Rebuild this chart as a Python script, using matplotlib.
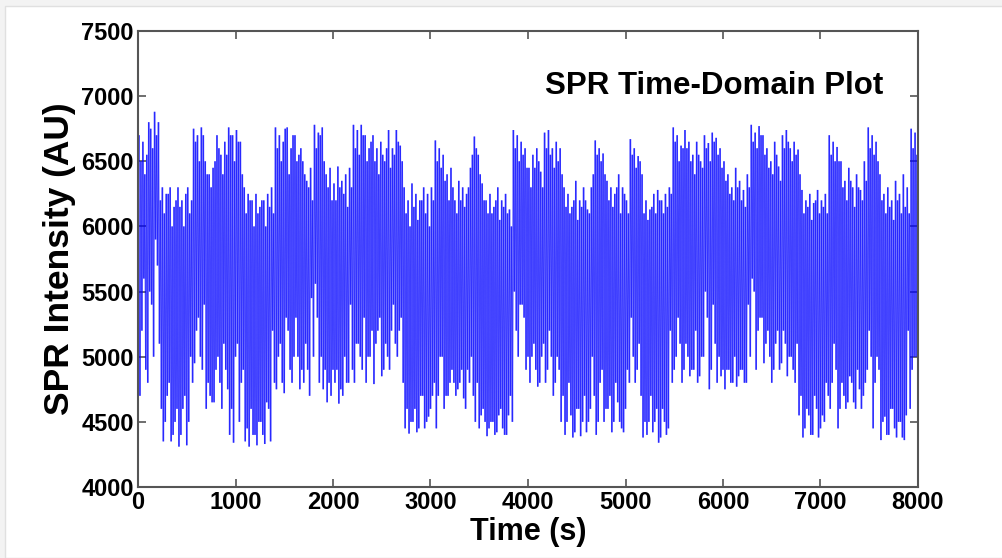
import matplotlib
matplotlib.use("Agg")
import matplotlib.pyplot as plt
from matplotlib.patches import Rectangle
from matplotlib.collections import LineCollection
import numpy as np

# ---- data ----
t_step = 10
# main swings (alternating trough / peak), 20 per 400 s block
intensity_main = [
    # 0 - 400
    6100, 6700, 4700, 6650, 5600, 6550, 4800, 6750, 5400, 6880,
    5900, 6800, 5100, 6300, 4350, 6250, 4700, 6300, 4350, 6150,
    # 400 - 800
    4500, 6300, 4310, 6200, 4600, 6250, 4320, 6100, 5000, 6750,
    4950, 6700, 5300, 6760, 4900, 6500, 4600, 6400, 4700, 6450,
    # 800 - 1200
    4650, 6700, 5000, 6550, 4600, 6650, 4900, 6760, 4400, 6700,
    4340, 6740, 5100, 6650, 4800, 6300, 4350, 6250, 4310, 6200,
    # 1200 - 1600
    4400, 6250, 4320, 6150, 4500, 6200, 4330, 6250, 4600, 6300,
    5200, 6760, 4750, 6700, 5100, 6650, 4720, 6760, 5200, 6600,
    # 1600 - 2000
    4800, 6700, 5300, 6550, 4750, 6500, 4800, 6350, 4900, 6450,
    5450, 6780, 5560, 6720, 4800, 6760, 4750, 6400, 4650, 6450,
    # 2000 - 2400
    4700, 6330, 4800, 6460, 4640, 6350, 4700, 6400, 4800, 6450,
    5400, 6780, 4800, 6740, 5100, 6780, 4900, 6700, 4800, 6600,
    # 2400 - 2800
    5000, 6700, 4790, 6600, 5200, 6650, 4850, 6500, 5100, 6740,
    4900, 6600, 5400, 6740, 5000, 6620, 5300, 6300, 4450, 6200,
    # 2800 - 3200
    4410, 6330, 4500, 6250, 4420, 6200, 4700, 6300, 4450, 6250,
    4540, 6300, 4700, 6660, 4450, 6600, 5000, 6550, 4600, 6400,
    # 3200 - 3600
    4700, 6450, 4900, 6200, 4700, 6350, 4800, 6300, 4680, 6250,
    4900, 6450, 5000, 6690, 4500, 6550, 4450, 6330, 4600, 6200,
    # 3600 - 4000
    4390, 6250, 4500, 6150, 4400, 6300, 4550, 6200, 4450, 6250,
    4400, 6130, 4700, 6740, 5500, 6700, 5000, 6650, 5400, 6600,
    # 4000 - 4400
    4900, 6450, 4800, 6550, 5100, 6600, 4770, 6420, 5000, 6720,
    4800, 6740, 5200, 6600, 4700, 6650, 5000, 6600, 4500, 6300,
    # 4400 - 4800
    4400, 6250, 4800, 6150, 4380, 6350, 4600, 6200, 4390, 6300,
    4700, 6130, 4500, 6300, 5000, 6660, 4400, 6600, 4800, 6560,
    # 4800 - 5200
    4500, 6350, 4600, 6300, 4420, 6250, 4800, 6400, 4500, 6300,
    4420, 6200, 4900, 6670, 5300, 6600, 4800, 6540, 5100, 6400,
    # 5200 - 5600
    4380, 6200, 4400, 6130, 4700, 6250, 4500, 6280, 4340, 6200,
    4600, 6250, 4400, 6300, 5200, 6760, 4900, 6700, 5300, 6620,
    # 5600 - 6000
    4800, 6740, 5100, 6650, 4850, 6550, 4900, 6650, 4800, 6500,
    5000, 6700, 5500, 6640, 4750, 6720, 5400, 6680, 4800, 6600,
    # 6000 - 6400
    4850, 6500, 4750, 6400, 4900, 6300, 4800, 6450, 4770, 6350,
    4900, 6280, 4800, 6400, 5400, 6780, 5600, 6720, 4900, 6770,
    # 6400 - 6800
    5300, 6700, 4950, 6600, 5200, 6500, 4800, 6650, 5100, 6460,
    4900, 6700, 5200, 6740, 4850, 6600, 5000, 6650, 4800, 6590,
    # 6800 - 7200
    4550, 6280, 4380, 6200, 4600, 6250, 4400, 6180, 4700, 6280,
    4380, 6200, 4550, 6250, 4800, 6700, 4600, 6650, 5100, 6610,
    # 7200 - 7600
    4450, 6500, 4800, 6350, 4600, 6450, 4850, 6300, 4650, 6400,
    4900, 6280, 4600, 6500, 4800, 6760, 5200, 6700, 4450, 6650,
    # 7600 - 8000
    5000, 6400, 4360, 6250, 4540, 6300, 4400, 6200, 4600, 6350,
    4380, 6250, 4500, 6400, 4360, 6300, 5200, 6750, 4900, 6720,
    5000,
]
# secondary (smaller) swings between the main ones, 10 per 400 s block
peak_extra = [
    6500, 6400, 6800, 6600, 6700, 6200, 6100, 6250, 6000, 6200,
    6150, 6000, 6300, 6200, 6650, 6500, 6700, 6400, 6300, 6500,
    6600, 6400, 6550, 6700, 6500, 6650, 6400, 6100, 6200, 6000,
    6100, 6200, 6000, 6150, 6100, 6600, 6500, 6750, 6400, 6700,
    6500, 6600, 6400, 6300, 6200, 6600, 6700, 6500, 6300, 6200,
    6200, 6300, 6250, 6150, 6300, 6600, 6550, 6700, 6500, 6650,
    6500, 6400, 6550, 6600, 6450, 6550, 6650, 6500, 6100, 6000,
    6150, 6050, 6200, 6100, 6000, 6200, 6500, 6450, 6350, 6200,
    6300, 6100, 6200, 6150, 6300, 6550, 6600, 6400, 6200, 6100,
    6100, 6200, 6050, 6150, 6100, 6000, 6600, 6500, 6550, 6450,
    6300, 6450, 6500, 6300, 6600, 6550, 6450, 6500, 6400, 6150,
    6100, 6200, 6050, 6150, 6200, 6100, 6400, 6550, 6500, 6400,
    6200, 6150, 6300, 6100, 6250, 6100, 6550, 6450, 6500, 6100,
    6050, 6150, 6100, 6200, 6100, 6150, 6250, 6650, 6500, 6600,
    6600, 6500, 6400, 6550, 6450, 6600, 6500, 6650, 6550, 6450,
    6350, 6250, 6200, 6300, 6200, 6150, 6300, 6650, 6600, 6700,
    6550, 6450, 6400, 6550, 6350, 6600, 6650, 6500, 6550, 6400,
    6100, 6150, 6050, 6200, 6100, 6150, 6100, 6550, 6500, 6500,
    6300, 6200, 6350, 6150, 6300, 6200, 6350, 6600, 6550, 6500,
    6200, 6100, 6150, 6050, 6200, 6100, 6150, 6100, 6600, 6550,
]
trough_extra = [
    5200, 4900, 5500, 5000, 5700, 4600, 4500, 4800, 4400, 4600,
    4400, 4700, 4500, 4800, 5200, 5000, 5400, 4800, 4650, 4900,
    4800, 5100, 4750, 4600, 5000, 4500, 4900, 4450, 4600, 4400,
    4500, 4400, 4650, 4350, 4800, 5000, 4800, 5300, 4900, 5000,
    5000, 4900, 5100, 4700, 5000, 5300, 5000, 4900, 4800, 4900,
    4900, 4750, 5000, 4800, 4900, 5100, 5000, 5300, 5000, 5200,
    5100, 5300, 4900, 5000, 5200, 5100, 5200, 4800, 4600, 4500,
    4600, 4450, 4700, 4500, 4600, 4800, 4700, 5000, 4700, 4800,
    4800, 4750, 4900, 4600, 4800, 4700, 4800, 4550, 4500, 4450,
    4500, 4420, 4600, 4400, 4550, 4500, 5200, 5400, 5300, 5000,
    5000, 4900, 4800, 5100, 4900, 5000, 4800, 4900, 4700, 4500,
    4550, 4420, 4600, 4500, 4420, 4600, 4700, 4500, 4900, 4600,
    4700, 4500, 4650, 4450, 4600, 4800, 5000, 4900, 4700, 4500,
    4500, 4420, 4600, 4380, 4500, 4450, 4800, 5000, 5100, 4900,
    5000, 4900, 5200, 4850, 5000, 5300, 4900, 5100, 5000, 4900,
    4900, 4800, 5000, 4850, 4900, 4800, 5000, 5500, 5200, 5300,
    5100, 5000, 4900, 5200, 4950, 5100, 5000, 4900, 5100, 4700,
    4450, 4550, 4400, 4600, 4450, 4500, 4700, 4800, 4900, 4600,
    4700, 4650, 4800, 4600, 4750, 4700, 4900, 5000, 4800, 4900,
    4500, 4400, 4600, 4450, 4500, 4380, 4550, 4600, 5000, 5000,
]

x_ticks = [0, 1000, 2000, 3000, 4000, 5000, 6000, 7000, 8000]
y_ticks = [4000, 4500, 5000, 5500, 6000, 6500, 7000, 7500]
title_text = "SPR Time-Domain Plot"
x_label = "Time (s)"
y_label = "SPR Intensity (AU)"

# assemble the trace: start value, then per 40 s: main peak, main trough,
# secondary peak, secondary trough
main_peaks = np.array(intensity_main[1::2])
main_troughs = np.array(intensity_main[2::2])
cycle = np.column_stack([main_peaks, main_troughs, peak_extra, trough_extra]).ravel()
intensity = np.concatenate([[intensity_main[0]], cycle])
time_s = t_step * np.arange(len(intensity))

# ---- style ----
plt.rcParams['font.family'] = ['Liberation Sans', 'DejaVu Sans']
plt.rcParams['font.weight'] = 'bold'

W, H = 1003, 558
fig = plt.figure(figsize=(W / 100, H / 100), dpi=100)
fig.patch.set_facecolor('white')

# light screenshot border
fig.patches.append(Rectangle((0, 0), 1, 1, transform=fig.transFigure,
                             facecolor='#f3f3f3', edgecolor='none', zorder=-10))
fig.patches.append(Rectangle((5 / W, 0), 1 - 5 / W, 1 - 6 / H, transform=fig.transFigure,
                             facecolor='white', edgecolor='#e0e0e0', linewidth=1.0, zorder=-9))

ax = fig.add_axes([138 / W, 1 - 487 / H, (918 - 138) / W, (487 - 31) / H])
# draw the trace as individual segments so overlapping strokes deepen in tone
pts = np.column_stack([time_s, intensity])
segs = np.stack([pts[:-1], pts[1:]], axis=1)
lc = LineCollection(segs, colors='#0000ff', linewidths=1.1, alpha=0.6,
                    capstyle='butt')
ax.add_collection(lc)

ax.set_xlim(0, 8000)
ax.set_ylim(4000, 7500)
ax.set_xticks(x_ticks)
ax.set_yticks(y_ticks)
ax.tick_params(direction='in', length=6, width=1.2, top=True, right=True,
               labelsize=17, colors='#555555', labelcolor='black', pad=3)
for lab in ax.get_xticklabels() + ax.get_yticklabels():
    lab.set_fontweight('bold')
for sp in ax.spines.values():
    sp.set_color('#555555')
    sp.set_linewidth(1.5)

ax.set_xlabel(x_label, fontsize=22, fontweight='bold', labelpad=2)
ax.set_ylabel(y_label, fontsize=25.5, fontweight='bold', labelpad=4)
ax.text(0.955, 0.88, title_text, transform=ax.transAxes, ha='right', va='center',
        fontsize=22.5, fontweight='bold')

fig.savefig('out.png', dpi=100, facecolor=fig.get_facecolor())
